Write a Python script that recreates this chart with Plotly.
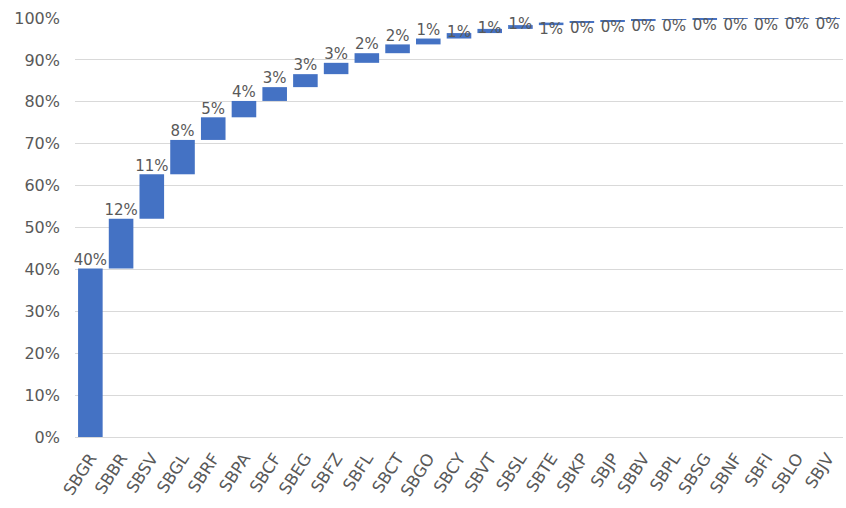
import plotly.graph_objects as go

categories = ["SBGR", "SBBR", "SBSV", "SBGL", "SBRF", "SBPA", "SBCF", "SBEG", "SBFZ",
              "SBFL", "SBCT", "SBGO", "SBCY", "SBVT", "SBSL", "SBTE", "SBKP", "SBJP",
              "SBBV", "SBPL", "SBSG", "SBNF", "SBFI", "SBLO", "SBJV"]
shares = [40.2, 11.9, 10.6, 8.2, 5.4, 3.9, 3.3, 3.1, 2.7, 2.3, 2.1, 1.4, 1.3, 1.0,
          0.9, 0.6, 0.3, 0.2, 0.2, 0.1, 0.1, 0.1, 0.04, 0.03, 0.03]
labels = [f"{int(round(v))}%" for v in shares]
y_ticks = list(range(0, 101, 10))

fracs = [v / 100 for v in shares]
cum = []
s = 0.0
for f in fracs:
    s += f
    cum.append(min(s, 1.0))

label_pos = (["top center"] * 12 + ["middle center"] * 3 + ["bottom center"] * 10)

FONT = "DejaVu Sans"
GREY = "#595959"

fig = go.Figure()
fig.add_trace(go.Waterfall(
    x=categories,
    y=fracs,
    measure=["relative"] * len(categories),
    increasing=dict(marker=dict(color="#4472C4", line=dict(width=0))),
    decreasing=dict(marker=dict(color="#4472C4", line=dict(width=0))),
    connector=dict(visible=False),
    hoverinfo="skip",
))
fig.add_trace(go.Scatter(
    x=categories, y=cum, mode="text", text=labels,
    textposition=label_pos,
    textfont=dict(family=FONT, size=15, color=GREY),
    cliponaxis=False, hoverinfo="skip",
))

fig.update_layout(
    width=846, height=508,
    margin=dict(l=75, r=3, t=18, b=71),
    plot_bgcolor="white", paper_bgcolor="white",
    showlegend=False,
    bargap=0.3,
    font=dict(family=FONT, color=GREY),
    xaxis=dict(range=[-0.5, len(categories) - 0.5],
               tickangle=-57, tickfont=dict(size=16.5, color=GREY),
               ticklabelstandoff=4,
               showgrid=False, showline=True, linecolor="#d9d9d9", ticks=""),
    yaxis=dict(range=[0, 1], tickvals=[t / 100 for t in y_ticks],
               ticktext=[f"{t}%" for t in y_ticks],
               tickfont=dict(size=16, color=GREY),
               ticklabelstandoff=14,
               showgrid=True, gridcolor="#d9d9d9", gridwidth=1,
               zeroline=False, showline=False, ticks=""),
)

fig.write_html("out.html")
